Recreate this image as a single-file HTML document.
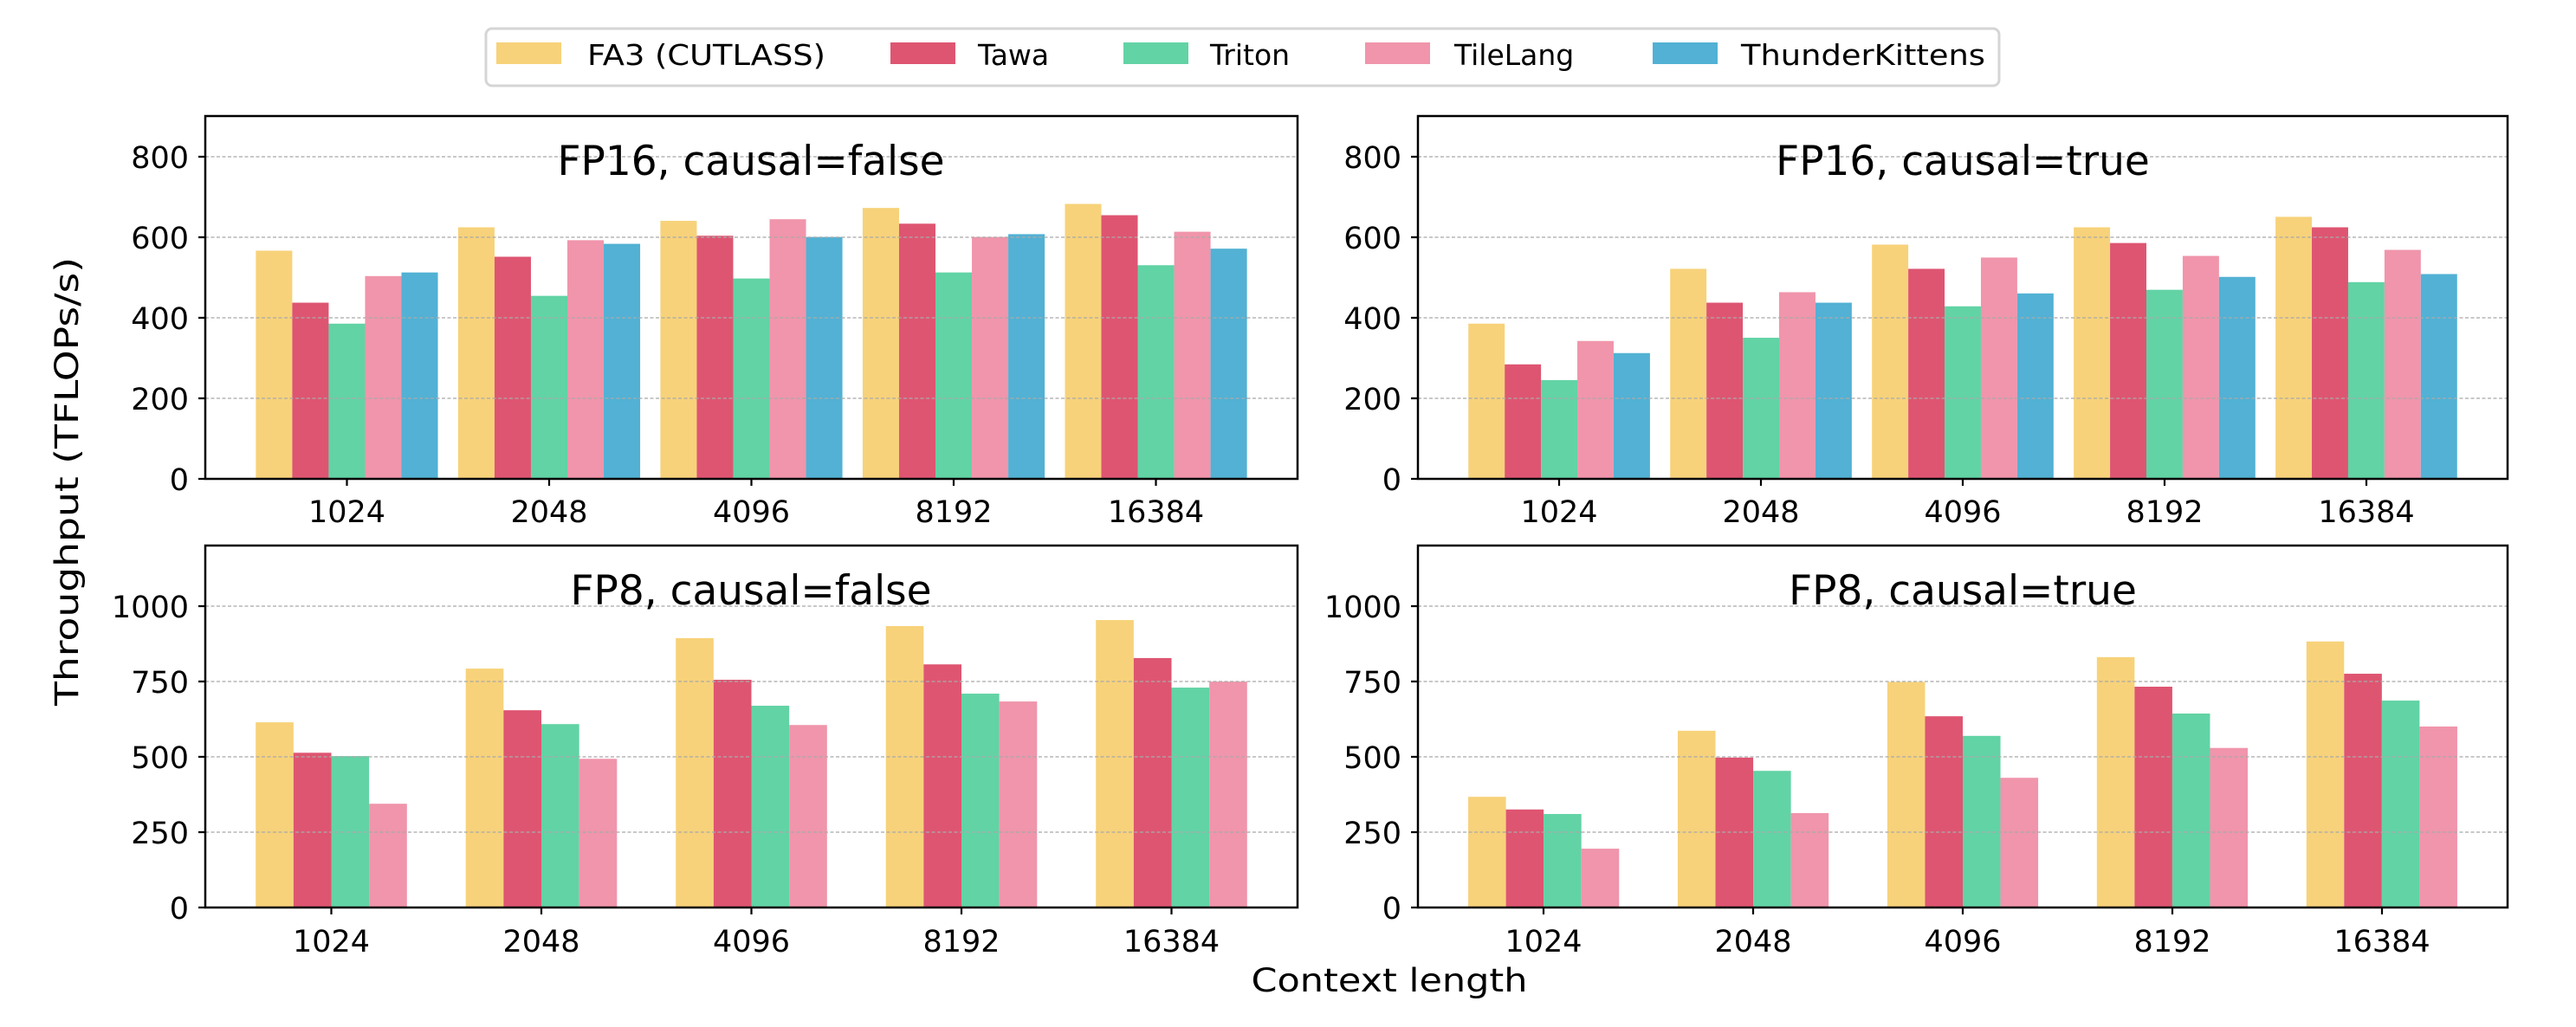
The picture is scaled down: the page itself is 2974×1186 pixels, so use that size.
<!DOCTYPE html>
<html><head><meta charset="utf-8"><style>
html,body{margin:0;padding:0;background:#fff}
svg{display:block}
text{font-family:"DejaVu Sans","Liberation Sans",sans-serif;fill:#000}
.tk{font-size:35px}
.ttl{font-size:47px}
</style></head><body>
<svg width="2974" height="1186" viewBox="0 0 2974 1186" xmlns="http://www.w3.org/2000/svg">
<rect width="2974" height="1186" fill="#fff"/>
<!-- Legend -->
<rect x="561" y="33" width="1747" height="66" rx="7" fill="#fff" stroke="#d5d5d5" stroke-width="3"/>
<rect x="573" y="49" width="75" height="25" fill="#F7D27A"/>
<text x="678" y="75" font-size="33" textLength="275" lengthAdjust="spacingAndGlyphs">FA3 (CUTLASS)</text>
<rect x="1028" y="49" width="75" height="25" fill="#DE5571"/>
<text x="1129" y="75" font-size="33">Tawa</text>
<rect x="1297" y="49" width="75" height="25" fill="#62D3A5"/>
<text x="1397" y="75" font-size="33">Triton</text>
<rect x="1576" y="49" width="75" height="25" fill="#F095AB"/>
<text x="1679" y="75" font-size="33">TileLang</text>
<rect x="1908" y="49" width="75" height="25" fill="#52B1D4"/>
<text x="2010" y="75" font-size="33" textLength="282" lengthAdjust="spacingAndGlyphs">ThunderKittens</text>

<!-- Top-left bars -->
<svg x="237" y="134" width="1261" height="419" viewBox="-0.7 -900 5.4 900" preserveAspectRatio="none">
<g fill="#F7D27A"><rect x="-0.45" y="-566" width="0.18" height="566"/><rect x="0.55" y="-624" width="0.18" height="624"/><rect x="1.55" y="-640" width="0.18" height="640"/><rect x="2.55" y="-672" width="0.18" height="672"/><rect x="3.55" y="-682" width="0.18" height="682"/></g>
<g fill="#DE5571"><rect x="-0.27" y="-437" width="0.18" height="437"/><rect x="0.73" y="-551" width="0.18" height="551"/><rect x="1.73" y="-603" width="0.18" height="603"/><rect x="2.73" y="-633" width="0.18" height="633"/><rect x="3.73" y="-654" width="0.18" height="654"/></g>
<g fill="#62D3A5"><rect x="-0.09" y="-385" width="0.18" height="385"/><rect x="0.91" y="-454" width="0.18" height="454"/><rect x="1.91" y="-497" width="0.18" height="497"/><rect x="2.91" y="-512" width="0.18" height="512"/><rect x="3.91" y="-530" width="0.18" height="530"/></g>
<g fill="#F095AB"><rect x="0.09" y="-503" width="0.18" height="503"/><rect x="1.09" y="-592" width="0.18" height="592"/><rect x="2.09" y="-644" width="0.18" height="644"/><rect x="3.09" y="-600" width="0.18" height="600"/><rect x="4.09" y="-613" width="0.18" height="613"/></g>
<g fill="#52B1D4"><rect x="0.27" y="-512" width="0.18" height="512"/><rect x="1.27" y="-583" width="0.18" height="583"/><rect x="2.27" y="-600" width="0.18" height="600"/><rect x="3.27" y="-607" width="0.18" height="607"/><rect x="4.27" y="-571" width="0.18" height="571"/></g>
</svg>
<!-- Top-right bars -->
<svg x="1637" y="134" width="1258" height="419" viewBox="-0.7 -900 5.4 900" preserveAspectRatio="none">
<g fill="#F7D27A"><rect x="-0.45" y="-385" width="0.18" height="385"/><rect x="0.55" y="-521" width="0.18" height="521"/><rect x="1.55" y="-581" width="0.18" height="581"/><rect x="2.55" y="-624" width="0.18" height="624"/><rect x="3.55" y="-650" width="0.18" height="650"/></g>
<g fill="#DE5571"><rect x="-0.27" y="-284" width="0.18" height="284"/><rect x="0.73" y="-437" width="0.18" height="437"/><rect x="1.73" y="-521" width="0.18" height="521"/><rect x="2.73" y="-585" width="0.18" height="585"/><rect x="3.73" y="-624" width="0.18" height="624"/></g>
<g fill="#62D3A5"><rect x="-0.09" y="-245" width="0.18" height="245"/><rect x="0.91" y="-350" width="0.18" height="350"/><rect x="1.91" y="-428" width="0.18" height="428"/><rect x="2.91" y="-469" width="0.18" height="469"/><rect x="3.91" y="-488" width="0.18" height="488"/></g>
<g fill="#F095AB"><rect x="0.09" y="-342" width="0.18" height="342"/><rect x="1.09" y="-463" width="0.18" height="463"/><rect x="2.09" y="-549" width="0.18" height="549"/><rect x="3.09" y="-553" width="0.18" height="553"/><rect x="4.09" y="-568" width="0.18" height="568"/></g>
<g fill="#52B1D4"><rect x="0.27" y="-312" width="0.18" height="312"/><rect x="1.27" y="-437" width="0.18" height="437"/><rect x="2.27" y="-460" width="0.18" height="460"/><rect x="3.27" y="-501" width="0.18" height="501"/><rect x="4.27" y="-508" width="0.18" height="508"/></g>
</svg>
<!-- Bottom-left bars -->
<svg x="237" y="630" width="1261" height="418" viewBox="-0.6 -1200 5.2 1200" preserveAspectRatio="none">
<g fill="#F7D27A"><rect x="-0.36" y="-614" width="0.18" height="614"/><rect x="0.64" y="-792" width="0.18" height="792"/><rect x="1.64" y="-893" width="0.18" height="893"/><rect x="2.64" y="-933" width="0.18" height="933"/><rect x="3.64" y="-953" width="0.18" height="953"/></g>
<g fill="#DE5571"><rect x="-0.18" y="-513" width="0.18" height="513"/><rect x="0.82" y="-654" width="0.18" height="654"/><rect x="1.82" y="-755" width="0.18" height="755"/><rect x="2.82" y="-806" width="0.18" height="806"/><rect x="3.82" y="-827" width="0.18" height="827"/></g>
<g fill="#62D3A5"><rect x="0" y="-502" width="0.18" height="502"/><rect x="1" y="-608" width="0.18" height="608"/><rect x="2" y="-669" width="0.18" height="669"/><rect x="3" y="-709" width="0.18" height="709"/><rect x="4" y="-729" width="0.18" height="729"/></g>
<g fill="#F095AB"><rect x="0.18" y="-344" width="0.18" height="344"/><rect x="1.18" y="-493" width="0.18" height="493"/><rect x="2.18" y="-605" width="0.18" height="605"/><rect x="3.18" y="-683" width="0.18" height="683"/><rect x="4.18" y="-749" width="0.18" height="749"/></g>
</svg>
<!-- Bottom-right bars -->
<svg x="1637" y="630" width="1258" height="418" viewBox="-0.6 -1200 5.2 1200" preserveAspectRatio="none">
<g fill="#F7D27A"><rect x="-0.36" y="-367" width="0.18" height="367"/><rect x="0.64" y="-586" width="0.18" height="586"/><rect x="1.64" y="-748" width="0.18" height="748"/><rect x="2.64" y="-830" width="0.18" height="830"/><rect x="3.64" y="-882" width="0.18" height="882"/></g>
<g fill="#DE5571"><rect x="-0.18" y="-325" width="0.18" height="325"/><rect x="0.82" y="-497" width="0.18" height="497"/><rect x="1.82" y="-634" width="0.18" height="634"/><rect x="2.82" y="-732" width="0.18" height="732"/><rect x="3.82" y="-775" width="0.18" height="775"/></g>
<g fill="#62D3A5"><rect x="0" y="-310" width="0.18" height="310"/><rect x="1" y="-453" width="0.18" height="453"/><rect x="2" y="-569" width="0.18" height="569"/><rect x="3" y="-643" width="0.18" height="643"/><rect x="4" y="-686" width="0.18" height="686"/></g>
<g fill="#F095AB"><rect x="0.18" y="-195" width="0.18" height="195"/><rect x="1.18" y="-313" width="0.18" height="313"/><rect x="2.18" y="-430" width="0.18" height="430"/><rect x="3.18" y="-529" width="0.18" height="529"/><rect x="4.18" y="-600" width="0.18" height="600"/></g>
</svg>

<!-- Grid -->
<g stroke="#aaa" stroke-width="1.6" stroke-dasharray="4,2.5" opacity="0.85">
<path d="M237 460H1498M237 367H1498M237 274H1498M237 181H1498"/>
<path d="M1637 460H2895M1637 367H2895M1637 274H2895M1637 181H2895"/>
<path d="M237 961H1498M237 874H1498M237 787H1498M237 700H1498"/>
<path d="M1637 961H2895M1637 874H2895M1637 787H2895M1637 700H2895"/>
</g>

<!-- Axes frames -->
<g fill="none" stroke="#000" stroke-width="2.5">
<rect x="237" y="134" width="1261" height="419"/>
<rect x="1637" y="134" width="1258" height="419"/>
<rect x="237" y="630" width="1261" height="418"/>
<rect x="1637" y="630" width="1258" height="418"/>
</g>
<!-- Tick marks -->
<g stroke="#000" stroke-width="2.2">
<path d="M229 553H237M229 460H237M229 367H237M229 274H237M229 181H237"/>
<path d="M1629 553H1637M1629 460H1637M1629 367H1637M1629 274H1637M1629 181H1637"/>
<path d="M229 1048H237M229 961H237M229 874H237M229 787H237M229 700H237"/>
<path d="M1629 1048H1637M1629 961H1637M1629 874H1637M1629 787H1637M1629 700H1637"/>
<path d="M400.5 553V561M634 553V561M867.5 553V561M1101 553V561M1334.5 553V561"/>
<path d="M1800 553V561M2033 553V561M2266 553V561M2499 553V561M2732 553V561"/>
<path d="M382.5 1048V1056M625 1048V1056M867.5 1048V1056M1110 1048V1056M1352.5 1048V1056"/>
<path d="M1782 1048V1056M2024 1048V1056M2266 1048V1056M2508 1048V1056M2750 1048V1056"/>
</g>

<!-- Y tick labels -->
<g class="tk" text-anchor="end">
<text x="218" y="566">0</text><text x="218" y="473">200</text><text x="218" y="380">400</text><text x="218" y="287">600</text><text x="218" y="194">800</text>
<text x="1618" y="566">0</text><text x="1618" y="473">200</text><text x="1618" y="380">400</text><text x="1618" y="287">600</text><text x="1618" y="194">800</text>
<text x="218" y="1061">0</text><text x="218" y="974">250</text><text x="218" y="887">500</text><text x="218" y="800">750</text><text x="218" y="713">1000</text>
<text x="1618" y="1061">0</text><text x="1618" y="974">250</text><text x="1618" y="887">500</text><text x="1618" y="800">750</text><text x="1618" y="713">1000</text>
</g>
<!-- X tick labels -->
<g class="tk" text-anchor="middle">
<text x="400.5" y="603">1024</text><text x="634" y="603">2048</text><text x="867.5" y="603">4096</text><text x="1101" y="603">8192</text><text x="1334.5" y="603">16384</text>
<text x="1800" y="603">1024</text><text x="2033" y="603">2048</text><text x="2266" y="603">4096</text><text x="2499" y="603">8192</text><text x="2732" y="603">16384</text>
<text x="382.5" y="1099">1024</text><text x="625" y="1099">2048</text><text x="867.5" y="1099">4096</text><text x="1110" y="1099">8192</text><text x="1352.5" y="1099">16384</text>
<text x="1782" y="1099">1024</text><text x="2024" y="1099">2048</text><text x="2266" y="1099">4096</text><text x="2508" y="1099">8192</text><text x="2750" y="1099">16384</text>
</g>
<!-- Titles -->
<g class="ttl" text-anchor="middle">
<text x="867" y="202">FP16, causal=false</text>
<text x="2266" y="202">FP16, causal=true</text>
<text x="867" y="698">FP8, causal=false</text>
<text x="2266" y="698">FP8, causal=true</text>
</g>
<!-- Axis labels -->
<text x="1604" y="1145" font-size="37" text-anchor="middle" textLength="319" lengthAdjust="spacingAndGlyphs">Context length</text>
<text transform="translate(90,556) rotate(-90)" font-size="37" text-anchor="middle" textLength="518" lengthAdjust="spacingAndGlyphs">Throughput (TFLOPs/s)</text>
</svg>
</body></html>
